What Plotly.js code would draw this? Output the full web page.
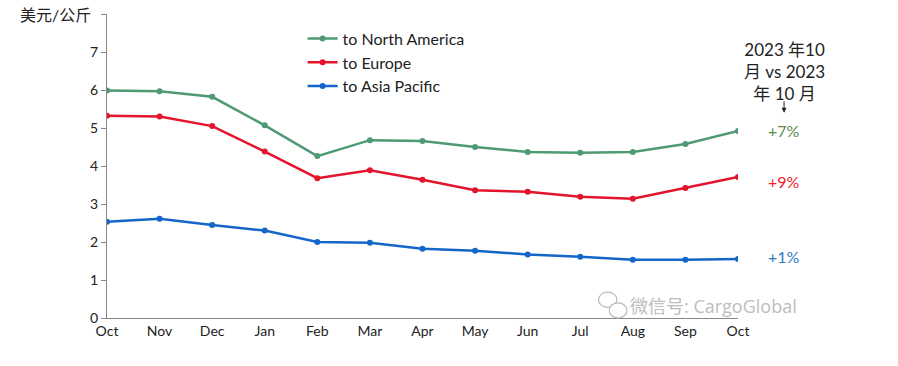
<!DOCTYPE html>
<html><head><meta charset="utf-8">
<script src="https://cdn.plot.ly/plotly-3.0.1.min.js"></script>
<style>html,body{margin:0;padding:0;background:#fff}#chart{width:898px;height:366px}</style>
</head><body><div id="chart"></div>
<script>
const months = ['Oct','Nov','Dec','Jan','Feb','Mar','Apr','May','Jun','Jul','Aug','Sep','Oct'];
const northAmerica = [5.99,5.97,5.82,5.07,4.26,4.68,4.66,4.50,4.37,4.35,4.37,4.58,4.92];
const europe = [5.32,5.30,5.05,4.38,3.68,3.89,3.64,3.36,3.32,3.19,3.14,3.42,3.71];
const asiaPacific = [2.53,2.61,2.45,2.30,2.00,1.98,1.82,1.77,1.67,1.61,1.53,1.53,1.55];
const yTicks = [0,1,2,3,4,5,6,7,8];
const yTickText = ['0','1','2','3','4','5','6','7',''];
const changes = ['+7%','+9%','+1%'];

const xIdx = months.map((m,i)=>i);
const FONT = 'Lato, "Noto Sans CJK SC", sans-serif';
const series = [
  {name:'to North America', y:northAmerica, color:'#4E9A72'},
  {name:'to Europe', y:europe, color:'#E3142C'},
  {name:'to Asia Pacific', y:asiaPacific, color:'#1466C8'}
];
const traces = series.map(s=>({
  x:xIdx, y:s.y, name:s.name, type:'scatter', mode:'lines+markers',
  line:{color:s.color,width:2.5}, marker:{color:s.color,size:6}
}));
const labelColors = ['#5A8A48','#F0202A','#2F7BC8'];
const labelShift = [0.02,-0.11,0.08]; // small vertical nudges in data units
const XR = 1.073; // paper x of the right-hand label column
const annotations = [
  {xref:'paper',yref:'paper',x:-0.022,y:1.0,xanchor:'right',yanchor:'middle',text:'美元/公斤',showarrow:false,font:{family:FONT,size:16,color:'#222'}},
  {xref:'paper',yref:'paper',x:XR,y:0.925,xanchor:'center',yanchor:'top',text:'2023 年10<br>月 vs 2023<br>年 10 月',showarrow:false,font:{family:FONT,size:17,color:'#222'}},
  {xref:'paper',yref:'paper',x:XR,y:0.675,ax:0,ay:-13,text:'',showarrow:true,arrowhead:2,arrowsize:1,arrowwidth:1,arrowcolor:'#222'},
  {xref:'paper',yref:'paper',x:0.825,y:0.04,xanchor:'left',yanchor:'middle',text:'微信号: CargoGlobal',showarrow:false,font:{family:'"Open Sans", "Noto Sans CJK SC", sans-serif',size:18,color:'#BDBDBD'}}
];
[northAmerica,europe,asiaPacific].forEach((arr,i)=>{
  annotations.push({xref:'paper',yref:'y',x:XR,y:arr[arr.length-1]+labelShift[i],xanchor:'center',yanchor:'middle',text:changes[i],showarrow:false,font:{family:FONT,size:16,color:labelColors[i]}});
});
const shapes = [
  {type:'circle',xref:'paper',yref:'paper',x0:0.779,x1:0.808,y0:0.035,y1:0.085,line:{color:'#BBBBBB',width:1.2}},
  {type:'circle',xref:'paper',yref:'paper',x0:0.796,x1:0.824,y0:0.0,y1:0.05,line:{color:'#BBBBBB',width:1.2},fillcolor:'#fff'}
];
const layout = {
  width:898,height:366,
  margin:{l:107,r:160,t:14,b:48},
  paper_bgcolor:'#fff',plot_bgcolor:'#fff',
  font:{family:FONT,size:14,color:'#222'},
  showlegend:true,
  legend:{x:0.31,y:0.975,xanchor:'left',yanchor:'top',bgcolor:'rgba(0,0,0,0)',font:{family:FONT,size:16,color:'#222'},itemwidth:30,tracegroupgap:0},
  xaxis:{range:[0,12],tickvals:xIdx,ticktext:months,showgrid:false,zeroline:false,showline:true,linecolor:'#888',linewidth:1.2,ticks:'',tickfont:{family:FONT,size:14,color:'#222'},fixedrange:true},
  yaxis:{range:[0,8],tickvals:yTicks,ticktext:yTickText,showgrid:false,zeroline:false,showline:true,linecolor:'#888',linewidth:1.2,ticks:'outside',ticklen:5,tickcolor:'#888',tickfont:{family:FONT,size:14,color:'#222'},fixedrange:true},
  annotations:annotations,
  shapes:shapes
};
Plotly.newPlot('chart',traces,layout,{displayModeBar:false,staticPlot:true});
</script></body></html>
